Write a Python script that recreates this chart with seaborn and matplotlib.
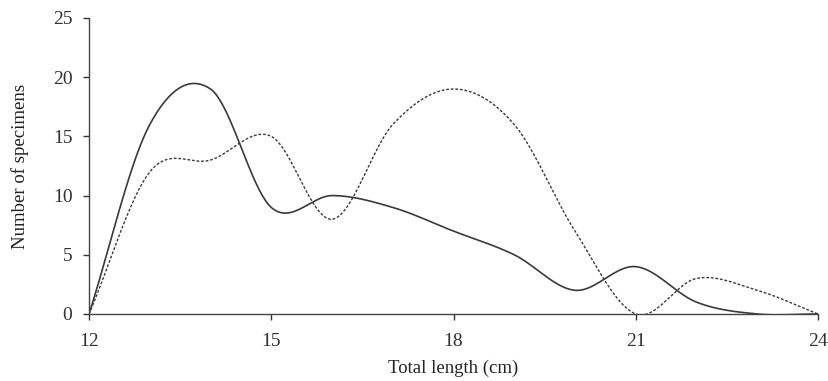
import numpy as np
import pandas as pd
import seaborn as sns
import matplotlib.pyplot as plt

# values (counts per 1 cm length class)
lengths = [12, 13, 14, 15, 16, 17, 18, 19, 20, 21, 22, 23, 24]
solid_counts = [0, 16, 19, 9, 10, 9, 7, 5, 2, 4, 1, 0, 0]
dotted_counts = [0, 12, 13, 15, 8, 16, 19, 16, 7, 0, 3, 2, 0]
x_ticks = [12, 15, 18, 21, 24]
y_ticks = [0, 5, 10, 15, 20, 25]


def smooth(xs, ys, steps=40):
    # Catmull-Rom spline, same look as a spreadsheet "smoothed line"
    xs = np.asarray(xs, float)
    ys = np.asarray(ys, float)
    n = len(xs)
    # end tangents follow the first/last segment
    ext = np.concatenate([[2 * ys[0] - ys[1]], ys, [2 * ys[-1] - ys[-2]]])
    out_x, out_y = [], []
    for i in range(n - 1):
        p0, p1, p2, p3 = ext[i], ext[i + 1], ext[i + 2], ext[i + 3]
        m1 = (p2 - p0) / 2
        m2 = (p3 - p1) / 2
        t = np.linspace(0, 1, steps, endpoint=(i == n - 2))
        h00 = 2 * t**3 - 3 * t**2 + 1
        h10 = t**3 - 2 * t**2 + t
        h01 = -2 * t**3 + 3 * t**2
        h11 = t**3 - t**2
        out_y.append(h00 * p1 + h10 * m1 + h01 * p2 + h11 * m2)
        out_x.append(xs[i] + t * (xs[i + 1] - xs[i]))
    return np.concatenate(out_x), np.concatenate(out_y)


sns.set_style("ticks")
plt.rcParams['font.family'] = ['Liberation Serif', 'DejaVu Serif']

fig = plt.figure(figsize=(8.29, 3.81), dpi=100)
ax = fig.add_axes([0.1074, 0.1759, 0.8793, 0.7769])

line_col = '#3a3a3a'
sx, sy = smooth(lengths, solid_counts)
dx, dy = smooth(lengths, dotted_counts)
sns.lineplot(x=sx, y=sy, ax=ax, color=line_col, linewidth=1.2, sort=False)
sns.lineplot(x=dx, y=dy, ax=ax, color=line_col, linewidth=1.0, sort=False,
             linestyle=(0, (2.0, 1.3)))

ax.set_xlim(12, 24)
ax.set_ylim(0, 25)
ax.set_xticks(x_ticks)
ax.set_yticks(y_ticks)
ax.set_xlabel('Total length (cm)', fontsize=13.5, color='#222222', labelpad=7)
ax.set_ylabel('Number of specimens', fontsize=13.5, color='#222222', labelpad=17)
ax.tick_params(axis='x', length=4, width=1, pad=10, labelsize=14, colors='#333333')
ax.tick_params(axis='y', length=4, width=1, pad=8, labelsize=14, colors='#333333')
for s in ['left', 'bottom']:
    ax.spines[s].set_color('#444444')
    ax.spines[s].set_linewidth(1.0)
sns.despine(ax=ax)

fig.savefig('out.png', dpi=100)
